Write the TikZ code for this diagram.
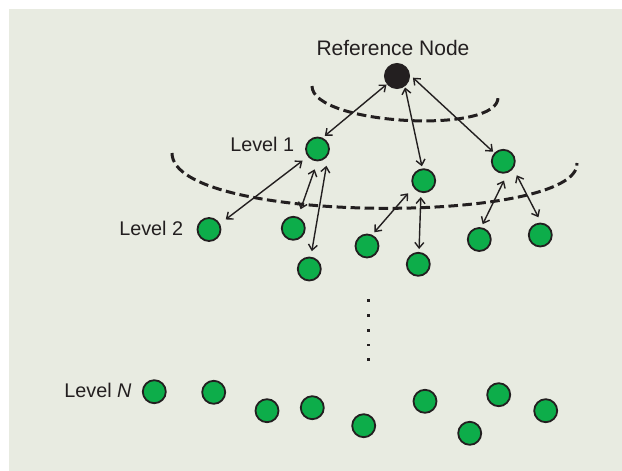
\documentclass[tikz,border=0pt]{standalone}
\usepackage{fontspec}
\setmainfont{Liberation Sans}
\usetikzlibrary{arrows.meta,calc}
\definecolor{bg}{HTML}{E8EBE1}
\definecolor{ink}{HTML}{231F20}
\definecolor{nodegreen}{HTML}{0DAD4A}
\begin{document}
\begin{tikzpicture}[x=1pt,y=-1pt,
  gnode/.style={circle,draw=ink,fill=nodegreen,line width=1.8pt,minimum size=23pt,inner sep=0pt},
  refnode/.style={circle,draw=ink,fill=ink,line width=1pt,minimum size=25pt,inner sep=0pt},
  lbl/.style={inner sep=0pt,text=ink,font=\fontsize{19.8}{22}\selectfont},
  arr/.style={{Straight Barb[length=5.5pt,width=9pt]}-{Straight Barb[length=5.5pt,width=9pt]},line width=1.4pt,draw=ink},
  dashline/.style={draw=ink,line width=3pt,dash pattern=on 9.5pt off 4.5pt}]
\useasboundingbox (0,0) rectangle (622,471);
\fill[white] (0,0) rectangle (622,471);
\fill[bg] (9,9) rectangle (622,471);
% dashed level boundaries
\draw[dashline] (312,86) .. controls (312,125) and (500,135) .. (498,97);
\draw[dashline] (172,153) .. controls (172,225) and (580,225) .. (577,163);
% nodes
\node[refnode] (ref) at (397,76) {};
\node[gnode] (A) at (317.5,149) {};
\node[gnode] (B) at (423.7,180.7) {};
\node[gnode] (C) at (503.3,161.3) {};
\node[gnode] (L2a) at (209,229.5) {};
\node[gnode] (L2b) at (293.3,228.3) {};
\node[gnode] (L2c) at (309.3,269) {};
\node[gnode] (L2d) at (367,246) {};
\node[gnode] (L2e) at (418.3,264.3) {};
\node[gnode] (L2f) at (479.3,239.5) {};
\node[gnode] (L2g) at (540.3,235) {};
\node[gnode] (N1) at (154.3,391.7) {};
\node[gnode] (N2) at (213.7,392.3) {};
\node[gnode] (N3) at (267,410.7) {};
\node[gnode] (N4) at (312.3,407.7) {};
\node[gnode] (N5) at (363.7,425.7) {};
\node[gnode] (N6) at (425,401.3) {};
\node[gnode] (N7) at (469.7,433.3) {};
\node[gnode] (N8) at (498.7,394.7) {};
\node[gnode] (N9) at (545.7,410.7) {};
% labels
\node[lbl,anchor=base,font=\fontsize{21}{24}\selectfont] (reftxt) at (393,55.7) {Reference Node};
\node[lbl,anchor=base east] (l1) at (294.3,151.7) {Level 1};
\node[lbl,anchor=base east] (l2) at (183.3,235) {Level 2};
\node[lbl,anchor=base east] (ln) at (131.7,397.3) {Level \textit{N}};
% connectors
\draw[arr] ($(ref)+(219:13.5pt)$) -- ($(A)+(61:15pt)$);
\draw[arr] ($(ref)+(-55:14pt)$) -- ($(B)+(97:14.5pt)$);
\draw[arr] ($(ref)+(-6:16pt)$) -- ($(C)+(137:14pt)$);
\draw[arr] ($(A)+(218:19pt)$) -- ($(L2a)+(31:19.5pt)$);
\draw[arr] ($(A)+(262:20.5pt)$) -- ($(L2b)+(69:20.4pt)$);
\draw[arr] ($(A)+(298:19pt)$) -- ($(L2c)+(82:18pt)$);
\draw[arr] ($(B)+(219:20pt)$) -- ($(L2d)+(62:15.5pt)$);
\draw[arr] ($(B)+(260:16.6pt)$) -- ($(L2e)+(87:15.3pt)$);
\draw[arr] ($(C)+(272:19.3pt)$) -- ($(L2f)+(77.5:15.7pt)$);
\draw[arr] ($(C)+(314:19.4pt)$) -- ($(L2g)+(96:17.8pt)$);
% vertical ellipsis dots
\foreach \yy in {300.7,315.7,330.2,344.8,359.7}
  \fill[ink] ($(368.3,\yy)+(-1.3pt,-1.3pt)$) rectangle ++(2.6pt,2.6pt);
\end{tikzpicture}
\end{document}
